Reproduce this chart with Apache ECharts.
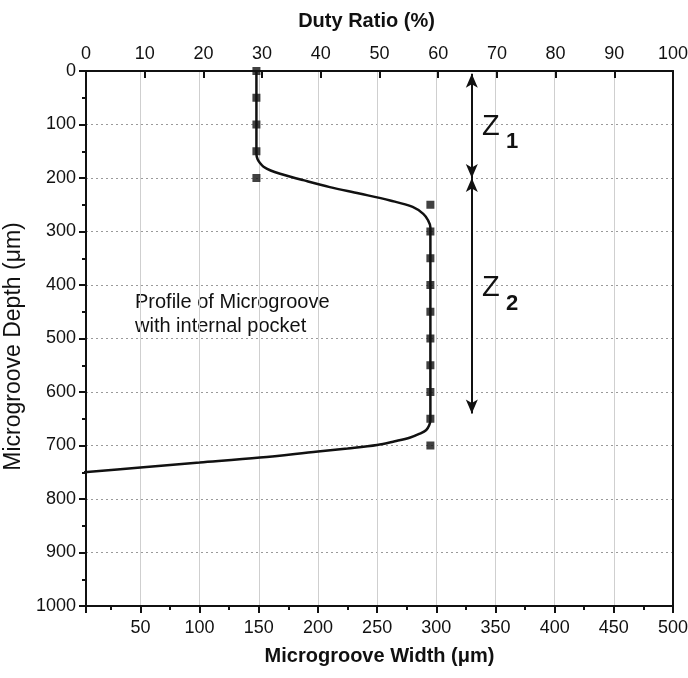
<!DOCTYPE html>
<html>
<head>
<meta charset="utf-8">
<script src="https://cdn.jsdelivr.net/npm/echarts@6/dist/echarts.min.js"></script>
<style>
html,body{margin:0;padding:0;background:#fff;}
#chart{width:688px;height:678px;}
</style>
</head>
<body>
<div id="chart"></div>
<script>
// ---- data ----
const markerDepth = [0, 50, 100, 150, 200, 250, 300, 350, 400, 450, 500, 550, 600, 650, 700];
const markerWidth = [148, 148, 148, 148, 148, 295, 295, 295, 295, 295, 295, 295, 295, 295, 295];

const profileWidth = [148, 148, 148, 149, 151, 154, 160, 168, 187.5, 210, 235, 261, 280, 289, 293, 295, 295, 295, 295, 295, 295, 295, 294, 291.5, 286, 278, 265, 250, 225, 200, 151, 100, 50, 0];
const profileDepth = [0, 100, 155, 165, 172, 179, 186, 192, 204, 217, 229, 242, 254, 267, 279, 292, 350, 450, 550, 600, 640, 653, 662, 671, 678, 685, 692, 699, 705.5, 711, 722.6, 732, 741, 750.5];

const widthTicks = [50, 100, 150, 200, 250, 300, 350, 400, 450, 500];
const dutyTicks = [0, 10, 20, 30, 40, 50, 60, 70, 80, 90, 100];
const depthTicks = [0, 100, 200, 300, 400, 500, 600, 700, 800, 900, 1000];

const zoneArrows = [[5, 200], [200, 640]]; // depth ranges of Z1, Z2
const arrowWidth = 330;
const zoneLabels = [
  { text: 'Z', x: 346, y: 104, kind: 'z' },
  { text: '1', x: 364, y: 133, kind: 's' },
  { text: 'Z', x: 346, y: 405, kind: 'z' },
  { text: '2', x: 364, y: 436, kind: 's' }
];
const noteText = 'Profile of Microgroove\nwith internal pocket';

// ---- chart ----
const FONT = 'Liberation Sans, Arial, sans-serif';
const chart = echarts.init(document.getElementById('chart'), null, { renderer: 'canvas' });

const markers = markerWidth.map((w, i) => [w, markerDepth[i]]);
const profile = profileWidth.map((w, i) => [w, profileDepth[i]]);

const option = {
  backgroundColor: '#fff',
  animation: false,
  grid: { left: 86, top: 71, right: 15, bottom: 72, containLabel: false, outerBoundsMode: 'none' },
  xAxis: [
    {
      type: 'value', position: 'bottom', min: 4, max: 500, splitNumber: 10,
      name: 'Microgroove Width (\u03bcm)', nameLocation: 'middle', nameGap: 40,
      nameTextStyle: { fontFamily: FONT, fontSize: 20, fontWeight: 'bold', color: '#111' },
      axisLine: { show: true, onZero: false, lineStyle: { color: '#111', width: 2 } },
      axisTick: { show: true, inside: false, length: 7, lineStyle: { color: '#111', width: 2 } },
      minorTick: { show: true, splitNumber: 2, length: 4, lineStyle: { color: '#111', width: 2 } },
      axisLabel: {
        margin: 13, fontFamily: FONT, fontSize: 18, color: '#111',
        showMinLabel: false,
        formatter: v => widthTicks.indexOf(Math.round(v)) >= 0 ? String(Math.round(v)) : ''
      },
      splitLine: { show: true, lineStyle: { color: '#cfcfcf', width: 1, type: 'solid' } }
    },
    {
      type: 'value', position: 'top', min: 0, max: 100, interval: 10,
      name: 'Duty Ratio (%)', nameLocation: 'middle', nameGap: 40,
      nameTextStyle: { fontFamily: FONT, fontSize: 20, fontWeight: 'bold', color: '#111', padding: [0, 26, 0, 0] },
      axisLine: { show: true, onZero: false, lineStyle: { color: '#111', width: 2 } },
      axisTick: { show: true, inside: true, length: 7, lineStyle: { color: '#111', width: 2 } },
      axisLabel: {
        margin: 8, fontFamily: FONT, fontSize: 18, color: '#111',
        formatter: v => dutyTicks.indexOf(Math.round(v)) >= 0 ? String(Math.round(v)) : ''
      },
      splitLine: { show: false }
    }
  ],
  yAxis: [
    {
      type: 'value', position: 'left', inverse: true, min: 0, max: 1000, interval: 100,
      name: 'Microgroove Depth (\u03bcm)', nameLocation: 'middle', nameGap: 56,
      nameTextStyle: { fontFamily: FONT, fontSize: 23, color: '#111', padding: [0, 16, 0, 0] },
      axisLine: { show: true, onZero: false, lineStyle: { color: '#111', width: 2 } },
      axisTick: { show: true, inside: false, length: 7, lineStyle: { color: '#111', width: 2 } },
      minorTick: { show: true, splitNumber: 2, length: 4, lineStyle: { color: '#111', width: 2 } },
      axisLabel: {
        margin: 10, fontFamily: FONT, fontSize: 18, color: '#111',
        formatter: v => depthTicks.indexOf(Math.round(v)) >= 0 ? String(Math.round(v)) : ''
      },
      splitLine: { show: true, lineStyle: { color: '#9a9a9a', width: 1, type: [2, 3] } }
    },
    {
      type: 'value', position: 'right', inverse: true, min: 0, max: 1000, interval: 100,
      axisLine: { show: true, onZero: false, lineStyle: { color: '#111', width: 2 } },
      axisTick: { show: false }, axisLabel: { show: false }, splitLine: { show: false }
    }
  ],
  series: [
    {
      type: 'line', xAxisIndex: 0, yAxisIndex: 0, data: profile,
      showSymbol: false, symbol: 'none', smooth: 0.35,
      lineStyle: { color: '#111', width: 2.5 },
      z: 3,
      markLine: {
        silent: true, animation: false,
        symbol: ['arrow', 'arrow'], symbolSize: [9, 14],
        label: { show: false },
        lineStyle: { color: '#111', width: 2, type: 'solid' },
        data: zoneArrows.map(r => [{ coord: [arrowWidth, r[0]] }, { coord: [arrowWidth, r[1]] }])
      },
      markPoint: {
        silent: true, animation: false, symbol: 'circle', symbolSize: 0,
        itemStyle: { color: 'transparent' },
        data: zoneLabels.map(l => ({
          coord: [l.x, l.y],
          label: {
            show: true, position: 'inside', formatter: l.text, color: '#111',
            fontFamily: FONT,
            fontSize: l.kind === 'z' ? 29 : 22,
            fontWeight: l.kind === 'z' ? 'normal' : 'bold'
          }
        }))
      }
    },
    {
      type: 'scatter', xAxisIndex: 0, yAxisIndex: 0, data: markers,
      symbol: 'rect', symbolSize: 8, itemStyle: { color: '#111' }, z: 4, clip: false
    }
  ],
  graphic: [
    {
      type: 'text', left: 135, top: 290, silent: true,
      style: { text: noteText, font: '20px "Liberation Sans", Arial, sans-serif', fill: '#111', lineHeight: 24 }
    }
  ]
};
chart.setOption(option);
</script>
</body>
</html>
